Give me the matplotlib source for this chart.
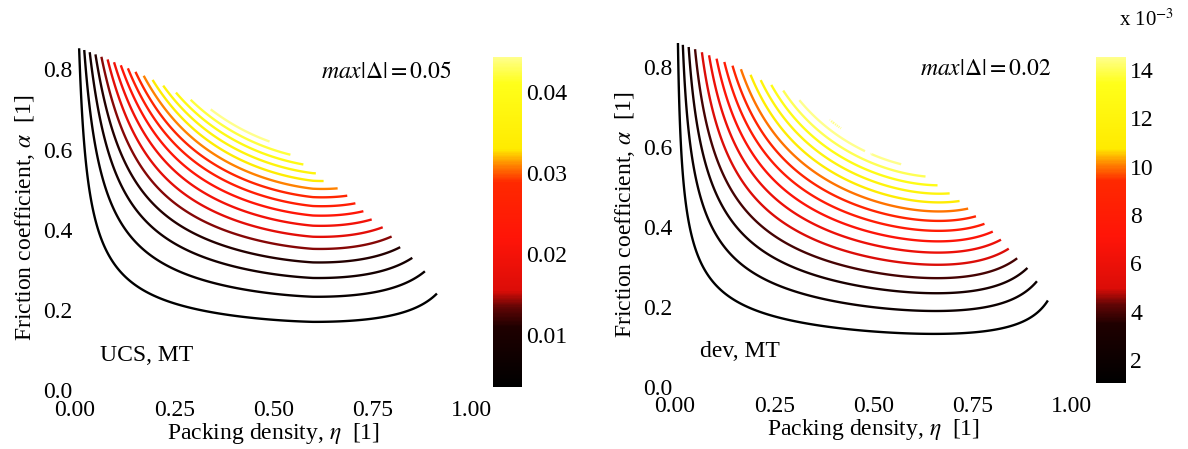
import numpy as np
import matplotlib
matplotlib.use("Agg")
import matplotlib.pyplot as plt
from matplotlib.colors import LinearSegmentedColormap, Normalize
from matplotlib.cm import ScalarMappable

plt.rcParams['font.family'] = ['Liberation Serif', 'DejaVu Serif']
plt.rcParams['mathtext.fontset'] = 'stix'

# ---- panel content ----
panel_tags = ["UCS, MT", "dev, MT"]
max_dev = ["0.05", "0.02"]

levels_ucs = [0.0028, 0.0056, 0.0084, 0.0112, 0.0140, 0.0168, 0.0196, 0.0224,
              0.0252, 0.0280, 0.0308, 0.0336, 0.0364, 0.0392, 0.0420, 0.0448, 0.0476]
levels_dev = [0.001, 0.002, 0.003, 0.004, 0.005, 0.006, 0.007, 0.008,
              0.009, 0.010, 0.011, 0.012, 0.013, 0.014, 0.015, 0.016]

clim_ucs = (0.0036, 0.0443)
clim_dev = (0.00105, 0.01454)

cbar_ticks_ucs = [0.01, 0.02, 0.03, 0.04]
cbar_labels_ucs = ["0.01", "0.02", "0.03", "0.04"]
cbar_ticks_dev = [0.002, 0.004, 0.006, 0.008, 0.010, 0.012, 0.014]
cbar_labels_dev = ["2", "4", "6", "8", "10", "12", "14"]

# deviation model parameters (UCS, dev)
lowest_min_alpha = [0.170, 0.1320]
alpha_exp_base = [1.80, 1.60]
alpha_exp_gain = [0.45, 0.35]
alpha_tail_up = [0.12, 0.0]
alpha_tail_down = [0.0, 0.10]
eta_power = [0.85, 0.68]
eta_decay = [1.46, 100.0]
eta_cutoff_power = [5, 5]
eta_knee_gain = [-0.09, 0.0]
eta_knee_width = [0.60, 0.45]
eta_knee_shape = [2, 1]

# upper edge of the admissible (eta, alpha) region
edge_eta_ucs = [0.0, 0.05, 0.10, 0.155, 0.20, 0.273, 0.35, 0.43, 0.50, 0.547, 0.58,
                0.611, 0.63, 0.672, 0.712, 0.75, 0.779, 0.802, 0.821, 0.851, 0.882,
                0.912, 0.94, 1.0]
edge_alpha_ucs = [0.857, 0.839, 0.818, 0.793, 0.772, 0.733, 0.697, 0.655, 0.615, 0.585,
                  0.56, 0.539, 0.519, 0.499, 0.462, 0.424, 0.404, 0.38, 0.355, 0.33,
                  0.297, 0.243, 0.18, 0.0]
edge_eta_dev = [0.0, 0.056, 0.109, 0.166, 0.21, 0.265, 0.302, 0.36, 0.42, 0.483, 0.55,
                0.618, 0.647, 0.676, 0.703, 0.727, 0.748, 0.767, 0.792, 0.811, 0.834,
                0.853, 0.882, 0.907, 0.937, 0.96, 1.0]
edge_alpha_dev = [0.863, 0.842, 0.819, 0.794, 0.77, 0.745, 0.724, 0.69, 0.645, 0.586,
                  0.565, 0.537, 0.514, 0.495, 0.477, 0.457, 0.438, 0.418, 0.399, 0.378,
                  0.357, 0.33, 0.305, 0.274, 0.224, 0.17, 0.0]

x_ticks = [0.0, 0.25, 0.5, 0.75, 1.0]
x_ticklabels = ["0.00", "0.25", "0.50", "0.75", "1.00"]
y_ticks = [0.0, 0.2, 0.4, 0.6, 0.8]
y_ticklabels = ["0.0", "0.2", "0.4", "0.6", "0.8"]

# black -> red -> yellow colour scale
hot_cmap = LinearSegmentedColormap.from_list("hot_yellow", [
    (0.00, (0.00, 0.00, 0.00)),
    (0.18, (0.12, 0.00, 0.00)),
    (0.24, (0.38, 0.02, 0.02)),
    (0.29, (0.86, 0.05, 0.03)),
    (0.45, (1.00, 0.08, 0.03)),
    (0.62, (1.00, 0.16, 0.00)),
    (0.67, (1.00, 0.50, 0.00)),
    (0.72, (1.00, 0.92, 0.00)),
    (0.92, (1.00, 1.00, 0.10)),
    (1.00, (1.00, 1.00, 0.55)),
])

eta = np.linspace(0.0005, 1.0, 900)
alpha = np.linspace(0.0005, 0.87, 800)
E, A = np.meshgrid(eta, alpha)


def eta_profile(e, i):
    knee = 1 + eta_knee_gain[i] * np.clip(1 - (e / eta_knee_width[i]) ** eta_knee_shape[i], 0, 1)
    return (e ** eta_power[i] * np.exp(-e / eta_decay[i])
            * (1 - e ** eta_cutoff_power[i]) * knee)


def alpha_tail(a, i):
    r = a / 0.85
    return (1 + alpha_tail_up[i] * r ** 6) / (1 + alpha_tail_down[i] * r ** 4)


def deviation_field(i, step, edge_eta, edge_alpha):
    expo = alpha_exp_base[i] + alpha_exp_gain[i] * (1 - np.exp(-E / 0.25))
    p = (A / lowest_min_alpha[i]) ** expo * alpha_tail(A, i) / alpha_tail(lowest_min_alpha[i], i)
    q = eta_profile(E, i) / eta_profile(eta, i).max()
    z = step * p * q
    return np.ma.masked_where(A > np.interp(E, edge_eta, edge_alpha), z)


fig = plt.figure(figsize=(11.88, 4.49), dpi=100)

axes_rects = [[0.0631, 0.1314, 0.3339, 0.7677], [0.5682, 0.1388, 0.3339, 0.766]]
cbar_rects = [[0.415, 0.1388, 0.0244, 0.735], [0.9226, 0.1463, 0.0253, 0.7274]]
panels = [
    (levels_ucs, clim_ucs, cbar_ticks_ucs, cbar_labels_ucs, edge_eta_ucs, edge_alpha_ucs, levels_ucs[0]),
    (levels_dev, clim_dev, cbar_ticks_dev, cbar_labels_dev, edge_eta_dev, edge_alpha_dev, levels_dev[0]),
]

for i, (levels, clim, cticks, clabels, e_eta, e_alpha, step) in enumerate(panels):
    ax = fig.add_axes(axes_rects[i])
    norm = Normalize(vmin=clim[0], vmax=clim[1])
    z = deviation_field(i, step, e_eta, e_alpha)
    ax.contour(E, A, z, levels=levels, cmap=hot_cmap, norm=norm, linewidths=1.7)
    ax.set_xlim(0, 1)
    ax.set_ylim(0, 0.86)
    for s in ax.spines.values():
        s.set_visible(False)
    ax.set_xticks(x_ticks)
    ax.set_xticklabels(x_ticklabels)
    ax.set_yticks(y_ticks)
    ax.set_yticklabels(y_ticklabels)
    ax.tick_params(length=0, labelsize=17)
    ax.tick_params(axis='x', pad=7)
    ax.tick_params(axis='y', pad=2)
    ax.set_xlabel(r"Packing density, $\eta$  [1]", fontsize=17, labelpad=0)
    ax.set_ylabel(r"Friction coefficient, $\alpha$  [1]", fontsize=17, labelpad=4)
    ax.text(0.063, 0.087, panel_tags[i], fontsize=17, va='center', ha='left')
    ax.text(0.95, 0.793, r"$\mathit{max}\left|\Delta\right| = " + max_dev[i] + "$",
            fontsize=17, va='center', ha='right')

    cax = fig.add_axes(cbar_rects[i])
    sm = ScalarMappable(norm=norm, cmap=hot_cmap)
    cb = fig.colorbar(sm, cax=cax)
    cb.outline.set_visible(False)
    cb.set_ticks(cticks)
    cb.set_ticklabels(clabels)
    cax.tick_params(length=0, labelsize=17, pad=3)

fig.text(0.9655, 0.955, r"x 10$^{-3}$", fontsize=15, ha='center', va='center')

fig.savefig("out.png", dpi=100, facecolor="white")
